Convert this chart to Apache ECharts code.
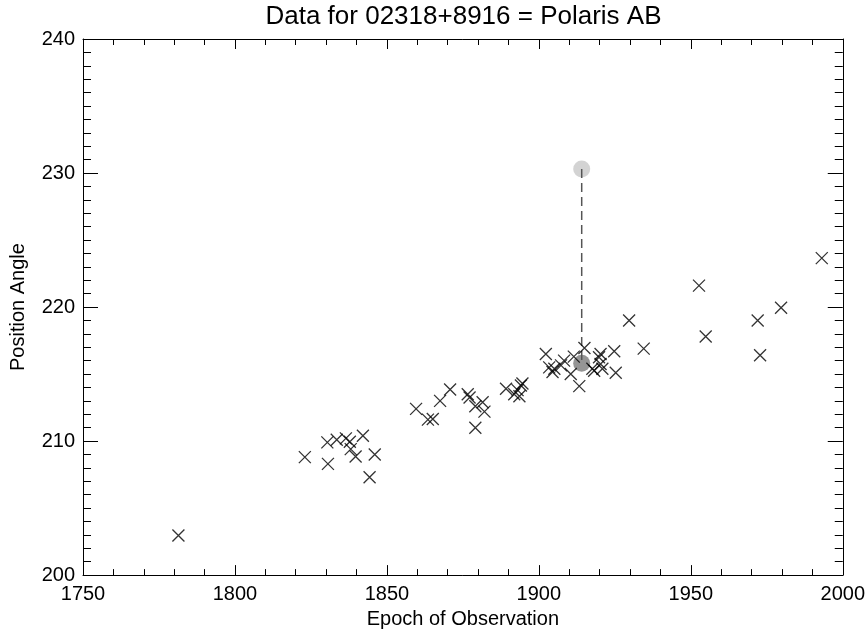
<!DOCTYPE html>
<html>
<head>
<meta charset="utf-8">
<script src="https://cdn.jsdelivr.net/npm/echarts@6/dist/echarts.min.js"></script>
<style>html,body{margin:0;padding:0;background:#fff}#c{width:868px;height:634px}</style>
</head>
<body>
<div id="c"></div>
<script>
const titleText = 'Data for 02318+8916 = Polaris AB';
const xName = 'Epoch of Observation';
const yName = 'Position Angle';
const xTicks = [1750, 2000, 50];
const yTicks = [200, 240, 10];

const epochs = [1781.4, 1823.0, 1830.4, 1830.6, 1833.5, 1836.5, 1837.8, 1838.1, 1839.7, 1842.1, 1844.3, 1846.0,
  1859.6, 1863.5, 1865.1, 1867.5, 1870.8, 1876.6, 1877.2, 1879.1, 1881.5, 1882.1, 1879.1, 1889.2, 1891.9, 1893.0, 1894.1, 1894.6, 1893.6,
  1902.3, 1903.4, 1904.5, 1905.1, 1907.3, 1908.3, 1910.5, 1911.5, 1913.3, 1915.0, 1917.6, 1918.2, 1919.8, 1920.3, 1920.3, 1920.9, 1924.8, 1925.3,
  1929.7, 1934.5, 1952.7, 1954.9, 1972.0, 1972.8, 1979.7, 1993.1];
const angles = [202.96, 208.8, 209.9, 208.3, 210.1, 210.2, 209.95, 209.4, 208.85, 210.4, 207.3, 209.0,
  212.4, 211.6, 211.65, 213.0, 213.85, 213.5, 213.25, 212.6, 212.9, 212.2, 211.0, 213.9, 213.5, 213.8, 214.15, 214.3, 213.35,
  216.5, 215.5, 215.15, 215.4, 215.65, 216.0, 215.0, 216.3, 214.1, 216.95, 215.4, 215.25, 216.25, 216.5, 215.75, 215.4, 216.7, 215.1,
  219.0, 216.9, 221.6, 217.8, 219.0, 216.4, 219.95, 223.65];

const residEpoch = [1914.1, 1914.1];
const residAngle = [230.3, 215.8];

const obs = epochs.map((e, i) => [e, angles[i]]);
const resid = residEpoch.map((e, i) => [e, residAngle[i]]);

const FONT = 'Liberation Sans, Arial, Helvetica, sans-serif';
const plain = v => String(v);

function xAx(pos, labels) {
  return {
    type: 'value', position: pos, min: xTicks[0], max: xTicks[1], interval: xTicks[2],
    name: labels ? xName : '', nameLocation: 'middle', nameGap: 28,
    nameTextStyle: {fontFamily: FONT, fontSize: 20, color: '#000'},
    axisLine: {show: true, onZero: false, lineStyle: {color: '#000', width: 1}},
    axisTick: {show: true, inside: true, length: 10, lineStyle: {color: '#000', width: 1}},
    minorTick: {show: true, splitNumber: 5, length: 6, lineStyle: {color: '#000', width: 1}},
    axisLabel: {show: labels, margin: 9, fontFamily: FONT, fontSize: 20, color: '#000', formatter: plain},
    splitLine: {show: false}, minorSplitLine: {show: false}
  };
}
function yAx(pos, labels) {
  return {
    type: 'value', position: pos, min: yTicks[0], max: yTicks[1], interval: yTicks[2],
    name: labels ? yName : '', nameLocation: 'middle', nameGap: 55,
    nameTextStyle: {fontFamily: FONT, fontSize: 20, color: '#000'},
    axisLine: {show: true, onZero: false, lineStyle: {color: '#000', width: 1}},
    axisTick: {show: true, inside: true, length: 15, lineStyle: {color: '#000', width: 1}},
    minorTick: {show: true, splitNumber: 10, length: 8, lineStyle: {color: '#000', width: 1}},
    axisLabel: {show: labels, margin: 8, fontFamily: FONT, fontSize: 20, color: '#000', formatter: plain},
    splitLine: {show: false}, minorSplitLine: {show: false}
  };
}

const chart = echarts.init(document.getElementById('c'), null, {renderer: 'canvas'});
chart.setOption({
  animation: false,
  backgroundColor: '#fff',
  grid: {left: 83, right: 24, top: 39, bottom: 55, containLabel: false},
  graphic: [{type: 'text', x: 463.5, y: 4, style: {text: titleText, textAlign: 'center', textVerticalAlign: 'top', fontFamily: FONT, fontSize: 26, fill: '#000'}}],
  xAxis: [xAx('bottom', true), xAx('top', false)],
  yAxis: [yAx('left', true), yAx('right', false)],
  series: [
    {type: 'scatter', data: [resid[0]], symbol: 'circle', symbolSize: 17, itemStyle: {color: '#c8c8c8'}, z: 1},
    {type: 'scatter', data: [resid[1]], symbol: 'circle', symbolSize: 17, itemStyle: {color: '#7a7a7a'}, z: 1},
    {type: 'line', data: resid, symbol: 'none', lineStyle: {color: '#555', width: 1.5, type: [9, 5]}, z: 2},
    {type: 'scatter', data: obs, symbol: 'path://M0,0L10,10M10,0L0,10', symbolSize: 12,
      itemStyle: {color: 'none', borderColor: '#000', borderWidth: 1.3}, z: 3}
  ]
});
</script>
</body>
</html>
